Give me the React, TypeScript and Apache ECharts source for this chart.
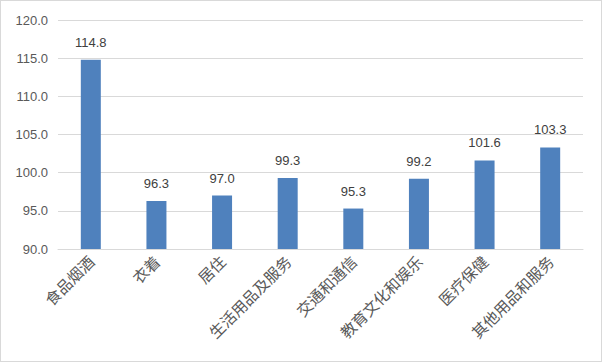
import React, { useEffect, useRef } from "react";
import * as echarts from "echarts";

const categories = ["食品烟酒", "衣着", "居住", "生活用品及服务", "交通和通信", "教育文化和娱乐", "医疗保健", "其他用品和服务"];
const values = [114.8, 96.3, 97.0, 99.3, 95.3, 99.2, 101.6, 103.3];
const yMin = 90;
const yMax = 120;
const yStep = 5;

export default function App() {
  const ref = useRef<HTMLDivElement>(null);
  useEffect(() => {
    if (!ref.current) return;
    const chart = echarts.init(ref.current, null, { renderer: "svg" });
    chart.setOption({
      animation: false,
      backgroundColor: "#ffffff",
      grid: { left: 57, right: 18, top: 19, bottom: 112, containLabel: false },
      xAxis: {
        type: "category",
        data: categories,
        axisLine: { show: true, lineStyle: { color: "#d9d9d9", width: 1 } },
        axisTick: { show: false },
        axisLabel: {
          interval: 0,
          rotate: 45,
          margin: 9,
          color: "#595959",
          fontSize: 15.5,
          fontFamily: "'Noto Sans CJK SC', sans-serif",
        },
      },
      yAxis: {
        type: "value",
        min: yMin,
        max: yMax,
        interval: yStep,
        axisLine: { show: false },
        axisTick: { show: false },
        splitLine: { lineStyle: { color: "#d9d9d9", width: 1 } },
        axisLabel: {
          color: "#595959",
          fontSize: 13,
          margin: 10,
          fontFamily: "'Liberation Sans', 'Noto Sans', sans-serif",
          formatter: (v: number) => v.toFixed(1),
        },
      },
      series: [
        {
          type: "bar",
          data: values,
          barWidth: 20,
          itemStyle: { color: "#4f81bd" },
          label: {
            show: true,
            position: "top",
            distance: 11,
            color: "#404040",
            fontSize: 13,
            fontFamily: "'Liberation Sans', 'Noto Sans', sans-serif",
            formatter: (p: any) => Number(p.value).toFixed(1),
          },
        },
      ],
    });
    return () => chart.dispose();
  }, []);
  return (
    <div
      ref={ref}
      style={{
        position: "fixed",
        left: 0,
        top: 0,
        width: 602,
        height: 362,
        boxSizing: "border-box",
        border: "1px solid #d9d9d9",
      }}
    />
  );
}
